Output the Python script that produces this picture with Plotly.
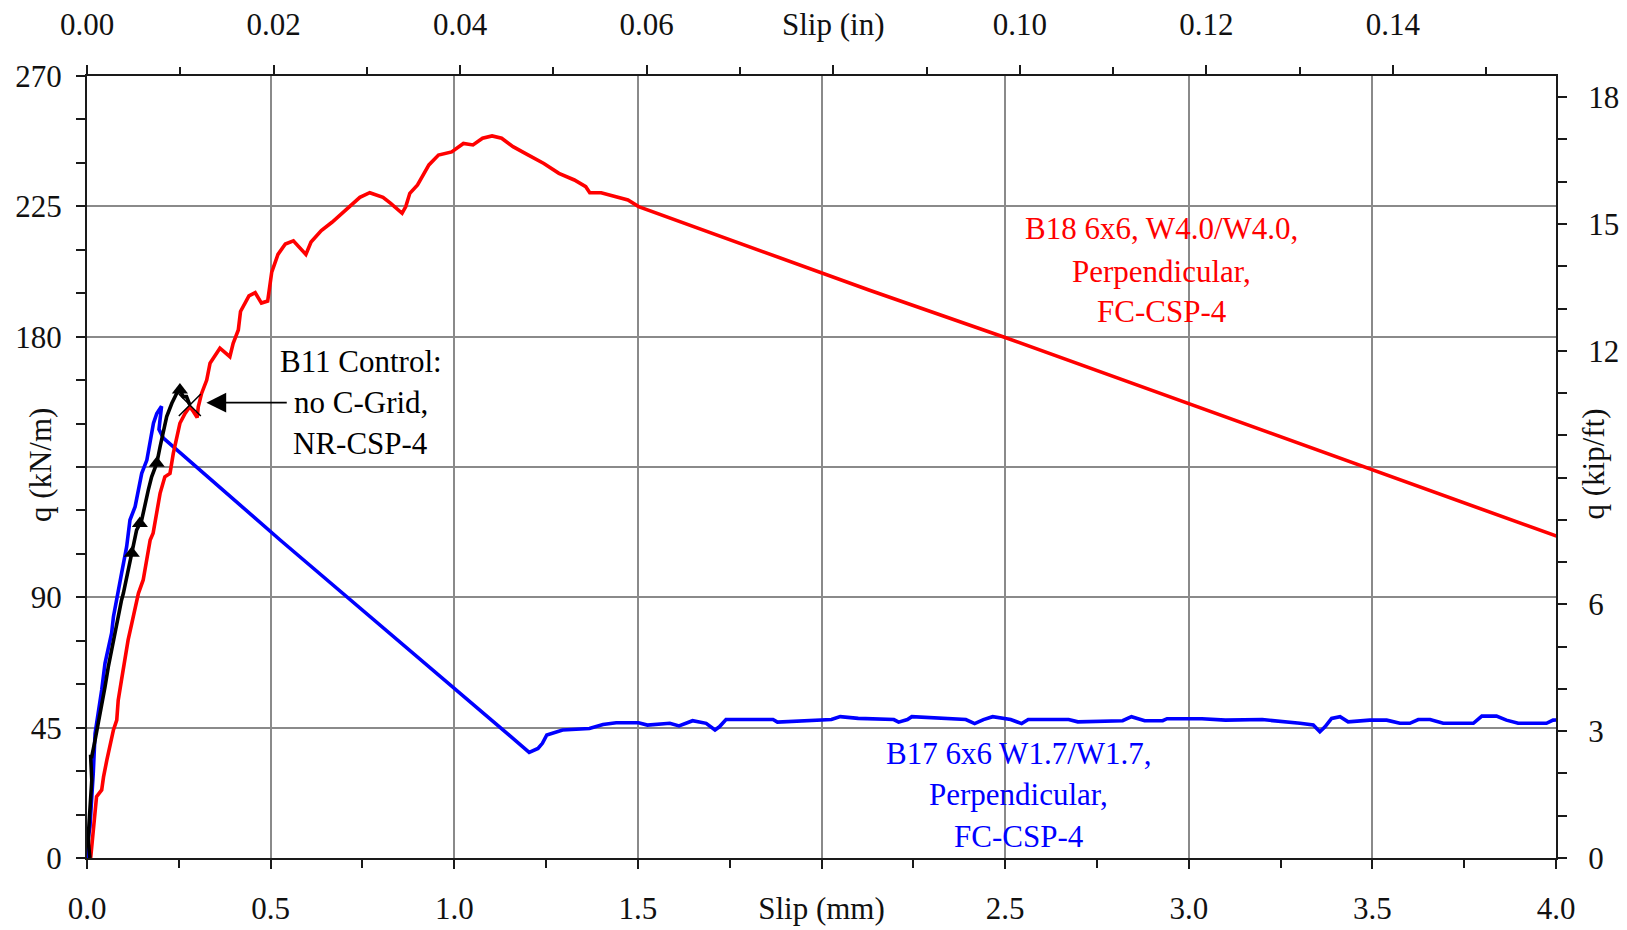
import plotly.graph_objects as go

# ---------------- data ----------------
# B18 6x6, W4.0/W4.0, Perpendicular, FC-CSP-4  (red)
red_slip_mm = [0.010, 0.013, 0.017, 0.022, 0.026, 0.040, 0.045, 0.054, 0.063, 0.072, 0.081, 0.085,
               0.094, 0.103, 0.112, 0.122, 0.126, 0.140, 0.153, 0.163, 0.172, 0.180, 0.190, 0.199,
               0.212, 0.226, 0.235, 0.244, 0.253, 0.267, 0.280, 0.290, 0.300, 0.303, 0.312, 0.326,
               0.335, 0.362, 0.389, 0.398, 0.412, 0.418, 0.441, 0.458, 0.475, 0.492, 0.503, 0.520,
               0.540, 0.562, 0.582, 0.596, 0.610, 0.638, 0.667, 0.695, 0.723, 0.743, 0.770, 0.785,
               0.806, 0.827, 0.848, 0.858, 0.868, 0.879, 0.900, 0.915, 0.931, 0.957, 0.993, 1.025,
               1.051, 1.077, 1.103, 1.129, 1.160, 1.202, 1.244, 1.285, 1.327, 1.358, 1.369, 1.400,
               1.473, 1.502, 2.004, 2.129, 2.500, 3.490, 4.035]
red_q_kNm = [0.0, 4.0, 9.7, 15.5, 21.2, 23.5, 28.0, 33.8, 39.6, 44.2, 47.6, 54.5,
             61.5, 68.4, 75.3, 81.0, 83.3, 91.4, 96.0, 102.9, 109.8, 112.1, 119.0, 125.9,
             131.6, 132.8, 139.7, 145.5, 150.1, 153.5, 155.8, 154.1, 152.1, 155.8, 160.4, 165.0,
             170.8, 176.0, 173.1, 177.7, 182.3, 188.7, 194.1, 195.2, 191.6, 192.3, 202.3, 208.4,
             212.0, 213.1, 210.3, 208.4, 212.7, 216.6, 219.5, 222.7, 225.9, 228.1, 229.7, 228.9,
             228.1, 226.0, 223.7, 222.6, 224.9, 229.5, 232.4, 235.8, 239.3, 242.7, 243.8, 246.7,
             246.2, 248.5, 249.3, 248.5, 245.6, 242.7, 239.8, 236.4, 234.1, 231.8, 229.7, 229.7,
             227.2, 224.9, 201.9, 196.1, 179.7, 134.5, 109.6]

# B17 6x6 W1.7/W1.7, Perpendicular, FC-CSP-4  (blue)
blue_slip_mm = [0.003, 0.000, 0.008, 0.013, 0.017, 0.022, 0.031, 0.040, 0.049, 0.067, 0.072, 0.085,
                0.094, 0.108, 0.117, 0.131, 0.140, 0.149, 0.163, 0.172, 0.181, 0.190, 0.199, 0.203,
                0.196, 0.208, 0.526, 1.204, 1.228, 1.240, 1.252, 1.295, 1.368, 1.405, 1.441, 1.502,
                1.526, 1.587, 1.612, 1.649, 1.686, 1.710, 1.722, 1.740, 1.868, 1.880, 2.027, 2.051,
                2.100, 2.197, 2.210, 2.234, 2.246, 2.393, 2.417, 2.441, 2.466, 2.515, 2.545, 2.563,
                2.673, 2.698, 2.820, 2.844, 2.880, 2.929, 2.941, 3.036, 3.100, 3.200, 3.303, 3.339,
                3.357, 3.371, 3.389, 3.412, 3.434, 3.493, 3.539, 3.575, 3.602, 3.625, 3.657, 3.693,
                3.775, 3.798, 3.838, 3.865, 3.897, 3.974, 3.992, 4.033]
blue_q_kNm = [0.0, 3.9, 10.8, 20.0, 29.2, 43.0, 50.0, 58.0, 67.2, 77.6, 83.3, 91.4,
              98.2, 107.5, 116.7, 121.3, 127.1, 132.8, 137.4, 144.3, 150.1, 153.5, 155.2, 156.0,
              148.0, 145.0, 109.8, 36.5, 37.8, 39.6, 42.5, 44.2, 44.7, 46.1, 46.7, 46.7,
              45.9, 46.5, 45.6, 47.4, 46.5, 44.2, 45.3, 47.8, 47.8, 46.9, 47.8, 48.8,
              48.2, 47.8, 46.9, 47.8, 48.8, 47.8, 46.4, 47.8, 48.8, 47.8, 46.4, 47.8,
              47.8, 47.0, 47.4, 48.8, 47.4, 47.4, 48.1, 48.1, 47.6, 47.8, 46.5, 45.9,
              43.6, 45.3, 48.2, 48.8, 47.0, 47.6, 47.6, 46.5, 46.5, 47.8, 47.8, 46.5,
              46.5, 49.0, 49.0, 47.6, 46.5, 46.5, 47.6, 47.8]

# B11 Control: no C-Grid, NR-CSP-4  (black)
black_slip_mm = [0.008, 0.004, 0.004, 0.008, 0.013, 0.010, 0.013, 0.022, 0.031, 0.040, 0.049, 0.058,
                 0.067, 0.076, 0.085, 0.094, 0.099, 0.108, 0.122, 0.135, 0.149, 0.158, 0.167, 0.176,
                 0.190, 0.199, 0.208, 0.217, 0.231, 0.244, 0.253, 0.262, 0.271, 0.280]
black_q_kNm = [0.0, 5.0, 8.6, 17.7, 26.9, 35.0, 35.0, 40.7, 46.5, 52.2, 59.1, 66.0,
               71.8, 78.7, 84.5, 89.0, 91.4, 97.1, 105.2, 113.2, 116.7, 122.5, 127.1, 131.6,
               136.3, 142.0, 147.8, 152.4, 157.0, 160.4, 161.6, 159.3, 159.3, 156.4]
black_marker_slip_mm = [0.122, 0.144, 0.190, 0.253]
black_marker_q_kNm = [105.2, 115.5, 136.3, 161.6]

# axes
MM_PER_IN = 25.4
KNM_PER_KIPFT = 14.5939
x_mm_ticks = [0.0, 0.5, 1.0, 1.5, 2.0, 2.5, 3.0, 3.5, 4.0]
x_mm_labels = ["0.0", "0.5", "1.0", "1.5", "Slip (mm)", "2.5", "3.0", "3.5", "4.0"]
x_in_ticks = [0.00, 0.02, 0.04, 0.06, 0.08, 0.10, 0.12, 0.14]
x_in_labels = ["0.00", "0.02", "0.04", "0.06", "Slip (in)", "0.10", "0.12", "0.14"]
y_kn_ticks = [0, 45, 90, 135, 180, 225, 270]
y_kn_labels = ["0", "45", "90", "", "180", "225", "270"]
y_kip_ticks = [0, 3, 6, 9, 12, 15, 18]
y_kip_labels = ["0", "3", "6", "", "12", "15", "18"]

FONT = "Liberation Serif, Times New Roman, serif"
FS = 31
LW = 3.6

fig = go.Figure()
fig.add_trace(go.Scatter(x=blue_slip_mm, y=blue_q_kNm, mode="lines",
                         line=dict(color="#0000FF", width=LW), showlegend=False, hoverinfo="skip"))
fig.add_trace(go.Scatter(x=red_slip_mm, y=red_q_kNm, mode="lines",
                         line=dict(color="#FF0000", width=LW), showlegend=False, hoverinfo="skip"))
fig.add_trace(go.Scatter(x=black_slip_mm, y=black_q_kNm, mode="lines",
                         line=dict(color="black", width=LW), showlegend=False, hoverinfo="skip"))
fig.add_trace(go.Scatter(x=black_marker_slip_mm, y=black_marker_q_kNm, mode="markers",
                         marker=dict(symbol="triangle-up", size=14, color="black"),
                         showlegend=False, hoverinfo="skip"))
fig.add_trace(go.Scatter(x=[black_slip_mm[-1]], y=[black_q_kNm[-1]], mode="markers",
                         marker=dict(symbol="x-thin", size=22, line=dict(width=1.5, color="black")),
                         showlegend=False, hoverinfo="skip"))
# invisible trace to create the secondary (inch / kip-per-ft) axes
fig.add_trace(go.Scatter(x=[0], y=[0], xaxis="x2", yaxis="y2", mode="markers",
                         marker=dict(opacity=0), showlegend=False, hoverinfo="skip"))

axis_common = dict(showline=True, linecolor="#1a1a1a", linewidth=2, ticks="outside",
                   tickcolor="#1a1a1a", tickwidth=2, ticklen=9, zeroline=False,
                   automargin=False,
                   tickfont=dict(family=FONT, size=FS, color="#111"))

fig.update_layout(
    width=1627, height=930, autosize=False,
    margin=dict(l=87, r=71, t=76, b=72, pad=0),
    paper_bgcolor="white", plot_bgcolor="white",
    xaxis=dict(range=[0, 4], tickmode="array", tickvals=x_mm_ticks, ticktext=x_mm_labels,
               showgrid=True, gridcolor="#8a8a8a", gridwidth=1.5,
               minor=dict(dtick=0.25, ticks="outside", ticklen=8, tickcolor="#1a1a1a",
                          tickwidth=2, showgrid=False),
               ticklabelstandoff=13, **axis_common),
    xaxis2=dict(range=[0, 4 / MM_PER_IN], overlaying="x", side="top", anchor="y",
                tickmode="array", tickvals=x_in_ticks, ticktext=x_in_labels, showgrid=False,
                minor=dict(dtick=0.01, ticks="outside", ticklen=7, tickcolor="#1a1a1a",
                           tickwidth=2, showgrid=False),
                ticklabelstandoff=18, **axis_common),
    yaxis=dict(range=[0, 270], tickmode="array", tickvals=y_kn_ticks, ticktext=y_kn_labels,
               showgrid=True, gridcolor="#8a8a8a", gridwidth=1.5,
               minor=dict(dtick=15, ticks="outside", ticklen=9, tickcolor="#1a1a1a",
                          tickwidth=2, showgrid=False),
               ticklabelstandoff=8, **axis_common),
    yaxis2=dict(range=[0, 270 / KNM_PER_KIPFT], overlaying="y", side="right", anchor="x",
                tickmode="array", tickvals=y_kip_ticks, ticktext=y_kip_labels, showgrid=False,
                minor=dict(dtick=1, ticks="outside", ticklen=9, tickcolor="#1a1a1a",
                           tickwidth=2, showgrid=False),
                ticklabelstandoff=15, **axis_common),
)

# rotated axis titles sitting in the gap of the tick labels
fig.add_annotation(text="q (kN/m)", xref="paper", yref="y", x=-0.032, y=136, textangle=-90,
                   xanchor="center", yanchor="middle",
                   showarrow=False, font=dict(family=FONT, size=FS, color="#111"))
fig.add_annotation(text="q (kip/ft)", xref="paper", yref="y", x=1.0255, y=136, textangle=-90,
                   xanchor="center", yanchor="middle",
                   showarrow=False, font=dict(family=FONT, size=FS, color="#111"))

# curve labels (one annotation per line)
labels = [
    (0.746, [171.6, 157.3, 143.0], ["B11 Control:", "no C-Grid,", "NR-CSP-4"], "black"),
    (2.927, [217.4, 202.4, 188.8], ["B18 6x6, W4.0/W4.0,", "Perpendicular,", "FC-CSP-4"], "#FF0000"),
    (2.537, [36.1, 21.8, 7.5], ["B17 6x6 W1.7/W1.7,", "Perpendicular,", "FC-CSP-4"], "#0000FF"),
]
for xc, ys, lines, col in labels:
    for yy, txt in zip(ys, lines):
        fig.add_annotation(text=txt, x=xc, y=yy, xref="x", yref="y", showarrow=False,
                           xanchor="center", yanchor="middle",
                           font=dict(family=FONT, size=FS, color=col))

# arrow pointing at the control curve
fig.add_annotation(text="", x=0.325, y=157.2, ax=0.548, ay=157.2, xref="x", yref="y",
                   axref="x", ayref="y", showarrow=True, arrowhead=2, arrowsize=2.2,
                   arrowwidth=1.8, arrowcolor="black", standoff=0)

fig.write_html("out.html")
